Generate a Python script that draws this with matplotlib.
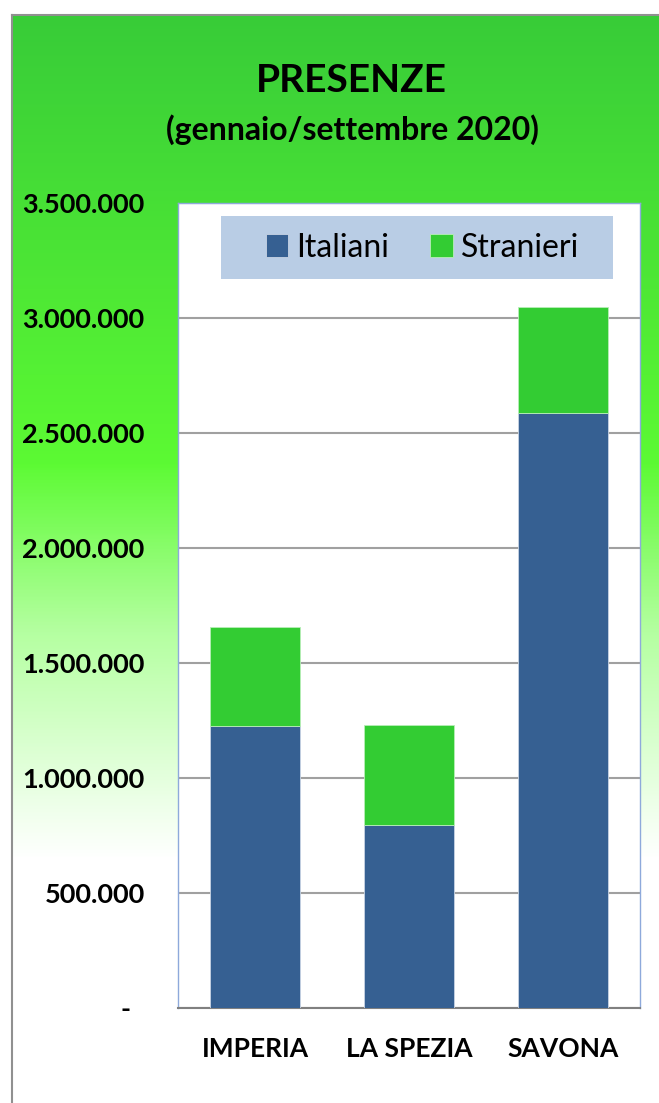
import numpy as np
import matplotlib
matplotlib.use("Agg")
import matplotlib.pyplot as plt
from matplotlib.colors import LinearSegmentedColormap
from matplotlib.patches import Rectangle
from matplotlib.ticker import FuncFormatter

# Dati: presenze gennaio/settembre 2020
province = ["IMPERIA", "LA SPEZIA", "SAVONA"]
italiani = [1226000, 796000, 2587000]
stranieri = [431000, 434000, 461000]
tick_vals = [0, 500000, 1000000, 1500000, 2000000, 2500000, 3000000, 3500000]

plt.rcParams['font.family'] = ['Lato', 'DejaVu Sans']

fig = plt.figure(figsize=(6.59, 11.03), dpi=100)
W, H = 659, 1103

# sfondo sfumato (verde -> bianco)
bg = fig.add_axes([0, 0, 1, 1], zorder=0)
bg.set_xlim(0, W)
bg.set_ylim(H, 0)
bg.axis("off")
cmap = LinearSegmentedColormap.from_list(
    "verde", [(0.0, "#38CC38"), (0.53, "#5CFA33"), (0.73, "#B4FFA0"), (1.0, "#FFFFFF")])
grad = np.linspace(0, 1, 500).reshape(-1, 1)
bg.imshow(grad, cmap=cmap, aspect="auto", extent=[12, W, 860, 15], zorder=0)
bg.plot([12, W], [15, 15], color="#909090", lw=1.5, zorder=2)
bg.plot([12, 12], [15, H], color="#909090", lw=1.5, zorder=2)

bg.text(351, 80, "PRESENZE", ha="center", va="center", fontsize=28, fontweight="bold")
bg.text(352, 130, "(gennaio/settembre 2020)", ha="center", va="center", fontsize=23, fontweight="bold")

# area del grafico: x 178-640, y 203-1008
ax = fig.add_axes([178 / W, 1 - 1008 / H, (640 - 178) / W, (1008 - 203) / H], zorder=1)
x = np.arange(len(province))
ax.bar(x, italiani, width=0.58, color="#366092", edgecolor="#C8D4E4", lw=0.6, label="Italiani", zorder=3)
ax.bar(x, stranieri, width=0.58, bottom=italiani, color="#33CC33", edgecolor="#B8EEB8", lw=0.6,
       label="Stranieri", zorder=3)

ax.set_xlim(-0.5, 2.5)
ax.set_ylim(0, 3500000)
ax.set_yticks(tick_vals)
ax.yaxis.set_major_formatter(FuncFormatter(
    lambda v, p: "-  " if v == 0 else f"{int(v):,}".replace(",", ".")))
ax.grid(axis="y", color="#A0A0A0", lw=1.5, zorder=1)
ax.set_axisbelow(True)
ax.set_xticks(x)
ax.set_xticklabels(province)
ax.tick_params(axis="x", length=0, labelsize=19, pad=21)
ax.tick_params(axis="y", length=0, labelsize=19.5, pad=24)
for lab in ax.get_xticklabels() + ax.get_yticklabels():
    lab.set_fontweight("bold")
for s in ["left", "right", "top"]:
    ax.spines[s].set_color("#8EA9DB")
    ax.spines[s].set_linewidth(1)
ax.spines["bottom"].set_color("#808080")
ax.spines["bottom"].set_linewidth(1.5)

# riquadro della legenda
ax.add_patch(Rectangle((0.093, 0.9056), 0.8486, 0.0783, transform=ax.transAxes,
                       facecolor="#B9CDE5", edgecolor="none", zorder=4))
leg = ax.legend(loc="center", bbox_to_anchor=(0.529, 0.9447), ncol=2, fontsize=23,
                frameon=False, handlelength=0.7, handleheight=0.7,
                handletextpad=0.25, columnspacing=1.3, borderpad=0.2)
leg.set_zorder(5)

fig.savefig("out.png", dpi=100)
